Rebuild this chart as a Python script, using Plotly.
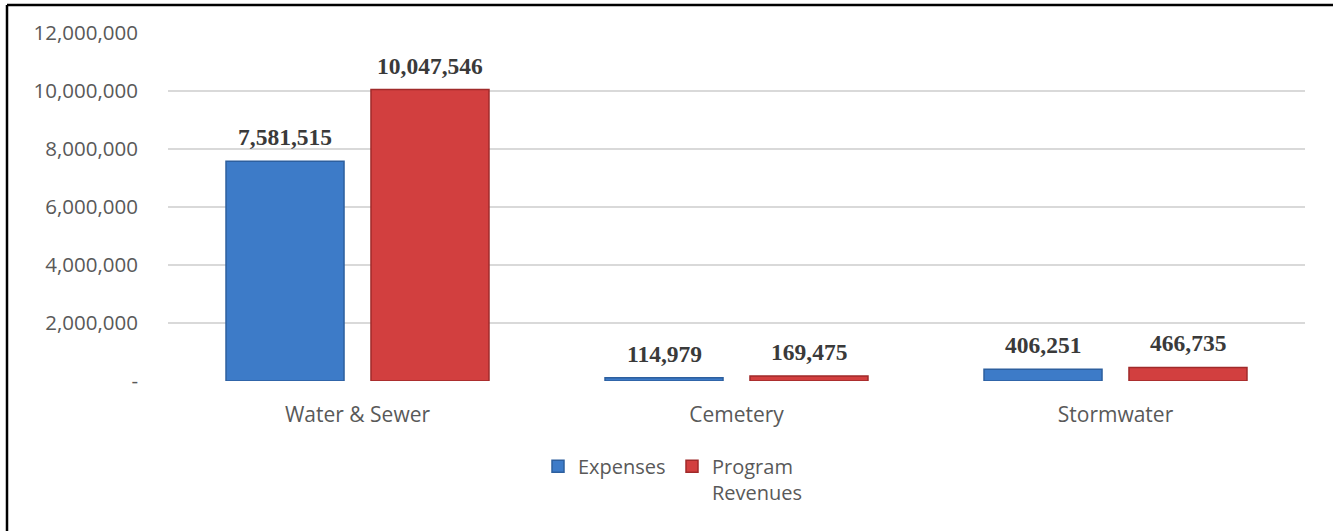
import plotly.graph_objects as go

categories = ["Water & Sewer", "Cemetery", "Stormwater"]
expenses = [7581515, 114979, 406251]
program_revenues = [10047546, 169475, 466735]
series_names = ["Expenses", "Program<br>Revenues"]
y_tickvals = [0, 2000000, 4000000, 6000000, 8000000, 10000000, 12000000]
y_ticktext = ["-", "2,000,000", "4,000,000", "6,000,000", "8,000,000", "10,000,000", "12,000,000"]

BLUE = "#3d7bc8"
BLUE_EDGE = "#2d5f9e"
RED = "#d23f3f"
RED_EDGE = "#a02a2a"
TXT = "#595959"
FONT = "Open Sans"

fig = go.Figure()
fig.add_trace(go.Bar(x=categories, y=expenses, name=series_names[0],
                     marker=dict(color=BLUE, line=dict(color=BLUE_EDGE, width=1.5))))
fig.add_trace(go.Bar(x=categories, y=program_revenues, name=series_names[1],
                     marker=dict(color=RED, line=dict(color=RED_EDGE, width=1.5))))

L, R, T, B = 168, 28, 33, 150
W, H = 1333, 531
pw, ph = W - L - R, H - T - B
slot = pw / 3 * (1 - 0.235) / 2

annotations = []
for vals, sh in ((expenses, -slot / 2), (program_revenues, slot / 2)):
    for c, v in zip(categories, vals):
        annotations.append(dict(x=c, y=v, xref="x", yref="y", xshift=sh, yshift=9,
                                yanchor="bottom", showarrow=False, text=f"{v:,}",
                                font=dict(family="Liberation Serif", size=23.5, color="#3a3a3a", weight="bold")))

fx0 = (7 - L) / pw
fy1 = 1 + (T - 5) / ph
shapes = [
    dict(type="line", xref="paper", yref="paper", x0=fx0, x1=1 + (R + 10) / pw, y0=fy1, y1=fy1,
         line=dict(color="black", width=2.5)),
    dict(type="line", xref="paper", yref="paper", x0=fx0, x1=fx0, y0=fy1, y1=-(B + 10) / ph,
         line=dict(color="black", width=2.5)),
]

fig.update_layout(
    width=W, height=H,
    margin=dict(l=L, r=R, t=T, b=B, autoexpand=False),
    paper_bgcolor="white", plot_bgcolor="white",
    barmode="group", bargap=0.235, bargroupgap=0.186,
    font=dict(family=FONT, color=TXT, size=20),
    annotations=annotations, shapes=shapes,
    legend=dict(orientation="h", x=(538 - L) / pw, xanchor="left", y=-0.189, yanchor="top",
                font=dict(size=20, color=TXT), traceorder="normal", valign="top",
                entrywidth=89, entrywidthmode="pixels"),
    yaxis=dict(range=[0, 12000000], tickvals=y_tickvals, ticktext=y_ticktext,
               gridcolor="#d9d9d9", gridwidth=2, zeroline=False, showline=False,
               tickfont=dict(size=20.5, color=TXT), ticklabelstandoff=29),
    xaxis=dict(showline=False, tickfont=dict(size=21, color=TXT), ticklabelstandoff=19),
)

fig.write_html("out.html")
